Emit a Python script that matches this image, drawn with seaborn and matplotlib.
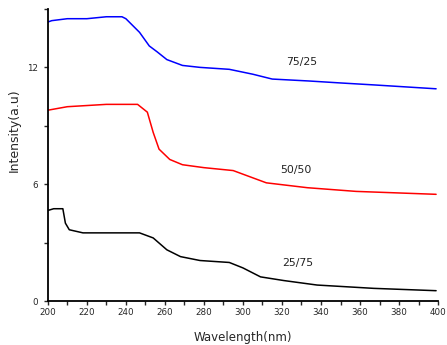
import numpy as np
import pandas as pd
import matplotlib
matplotlib.use("Agg")
import matplotlib.pyplot as plt
from matplotlib.ticker import MultipleLocator
import seaborn as sns

sns.set_style("ticks")
plt.rcParams["font.family"] = ["DejaVu Sans"]

# Absorption spectra for three blend ratios
wl_75_25 = [200, 202, 210, 220, 230, 238, 240, 247, 252, 256, 261, 269, 278, 293, 305, 315, 334, 350, 367, 399]
in_75_25 = [14.33, 14.4, 14.5, 14.5, 14.6, 14.6, 14.5, 13.8, 13.1, 12.8, 12.4, 12.1, 12.0, 11.9, 11.65, 11.4, 11.3, 11.2, 11.1, 10.9]

wl_50_50 = [200, 210, 230, 246, 251, 254, 257, 262.5, 269, 280, 295, 302, 312, 333, 358, 399]
in_50_50 = [9.8, 9.98, 10.1, 10.1, 9.7, 8.66, 7.8, 7.27, 7.0, 6.85, 6.7, 6.44, 6.07, 5.82, 5.63, 5.48]

wl_25_75 = [200, 203, 207.7, 209, 211, 218, 247, 254, 261, 268, 278, 293, 300, 309, 321, 338, 367, 399]
in_25_75 = [4.65, 4.74, 4.74, 4.0, 3.66, 3.5, 3.5, 3.24, 2.63, 2.28, 2.08, 1.98, 1.70, 1.24, 1.05, 0.82, 0.65, 0.53]

ratios = ["75/25", "50/50", "25/75"]
colors = ["#0000ff", "#ff0000", "#000000"]
label_pos = [(330, 12.3), (327, 6.75), (328, 1.96)]

df = pd.concat([
    pd.DataFrame({"wavelength": wl_75_25, "intensity": in_75_25, "ratio": "75/25"}),
    pd.DataFrame({"wavelength": wl_50_50, "intensity": in_50_50, "ratio": "50/50"}),
    pd.DataFrame({"wavelength": wl_25_75, "intensity": in_25_75, "ratio": "25/75"}),
], ignore_index=True)

fig = plt.figure(figsize=(4.47, 3.45), dpi=100)
ax = fig.add_axes([0.107, 0.1275, 0.873, 0.8465])

sns.lineplot(data=df, x="wavelength", y="intensity", hue="ratio",
             hue_order=ratios, palette=dict(zip(ratios, colors)),
             estimator=None, sort=False, linewidth=1.1, legend=False, ax=ax)

for txt, (x, y) in zip(ratios, label_pos):
    ax.text(x, y, txt, fontsize=7.8, ha="center", va="center", color="#222222")

ax.set_xlim(200, 400)
ax.set_ylim(0, 15)
ax.xaxis.set_major_locator(MultipleLocator(20))
ax.xaxis.set_minor_locator(MultipleLocator(10))
ax.yaxis.set_major_locator(MultipleLocator(6))
ax.yaxis.set_minor_locator(MultipleLocator(3))
ax.tick_params(which="both", direction="out", length=3, width=1.0, labelsize=6.3, pad=2)
ax.tick_params(axis="y", pad=4)

for side in ["top", "right"]:
    ax.spines[side].set_visible(False)
for side in ["left", "bottom"]:
    ax.spines[side].set_linewidth(1.3)
    ax.spines[side].set_color("black")

ax.set_xlabel("Wavelength(nm)", fontsize=8.5, labelpad=10)
ax.set_ylabel("Intensity(a.u)", fontsize=9, va="center")
ax.yaxis.set_label_coords(-0.085, 0.586)

fig.savefig("out.png", dpi=100)
